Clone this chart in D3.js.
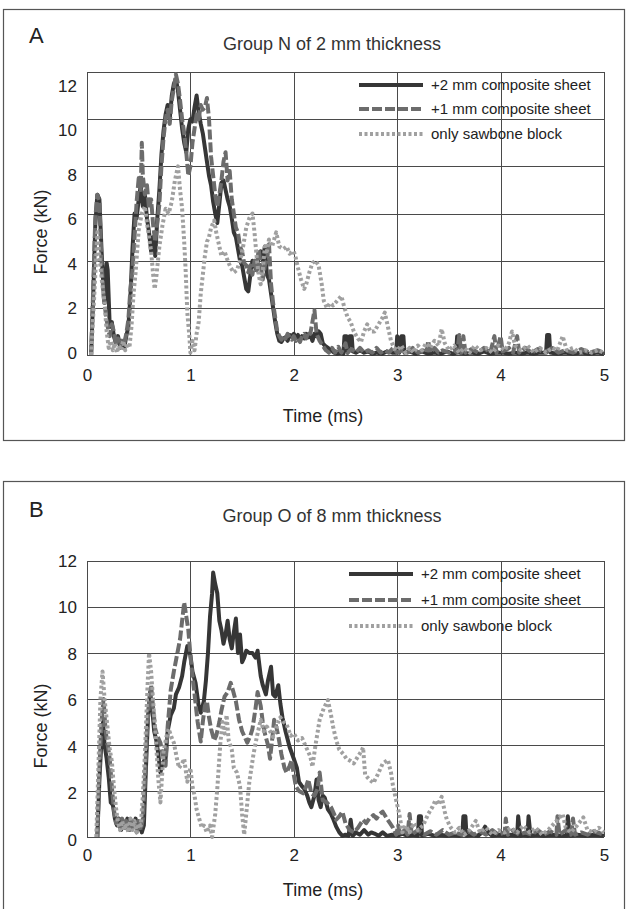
<!DOCTYPE html>
<html>
<head>
<meta charset="utf-8">
<script src="https://cdn.jsdelivr.net/npm/d3@7"></script>
<style>
  body { margin: 0; background: #fff; }
  svg { display: block; font-family: "Liberation Sans", Arial, sans-serif; }
  .grid line { stroke: #4a4a4a; stroke-width: 1; }
  .tick text { fill: #222; }
</style>
</head>
<body>
<div id="chart"></div>
<script>
// series names (legend order)
var seriesNames = ["+2 mm composite sheet", "+1 mm composite sheet", "only sawbone block"];
var timeTicks = [0, 1, 2, 3, 4, 5];
var forceTicks = [0, 2, 4, 6, 8, 10, 12];

// Panel A : Group N of 2 mm thickness  [time (ms), force (kN)]
var nSheet2 = [[0.04,0],[0.06,2.5],[0.08,5.5],[0.10,6.8],[0.12,6.6],[0.14,4.5],[0.16,2.8],[0.17,2.2],[0.19,3.9],[0.20,3.6],[0.22,1.2],[0.24,1.4],[0.26,0.8],[0.28,0.5],[0.30,0.8],[0.32,0.4],[0.34,0.6],[0.36,0.3],[0.38,0.8],[0.40,1.2],[0.42,2.5],[0.44,4.5],[0.46,6.0],[0.48,5.8],[0.50,6.6],[0.52,7.2],[0.54,6.3],[0.56,6.8],[0.58,5.8],[0.60,5.2],[0.62,4.4],[0.64,5.0],[0.66,4.2],[0.68,5.8],[0.70,7.0],[0.72,8.5],[0.74,9.5],[0.76,10.2],[0.78,10.6],[0.80,10.0],[0.82,11.0],[0.84,11.5],[0.86,11.7],[0.88,11.2],[0.90,10.4],[0.92,9.6],[0.94,9.0],[0.96,8.6],[0.98,9.6],[1.00,10.0],[1.02,9.9],[1.04,10.5],[1.06,11.0],[1.08,10.3],[1.10,9.8],[1.12,9.4],[1.14,8.8],[1.16,8.2],[1.18,7.6],[1.20,7.2],[1.22,6.5],[1.24,6.0],[1.26,5.6],[1.28,6.4],[1.30,7.3],[1.32,7.4],[1.34,7.0],[1.36,6.6],[1.38,6.3],[1.40,5.8],[1.42,5.2],[1.44,5.0],[1.46,4.5],[1.48,4.0],[1.50,3.8],[1.52,3.3],[1.54,2.8],[1.56,2.7],[1.58,3.4],[1.60,4.0],[1.62,3.8],[1.64,3.6],[1.66,4.2],[1.68,4.4],[1.70,4.0],[1.72,4.6],[1.74,3.4],[1.76,3.2],[1.78,2.6],[1.80,2.0],[1.82,1.4],[1.84,0.9],[1.86,0.6],[1.88,0.55],[1.90,0.7],[1.92,0.75],[1.94,0.6],[1.96,0.85],[1.98,0.8],[2.00,0.9],[2.02,0.75],[2.04,0.85],[2.06,0.65],[2.08,0.8],[2.10,0.7],[2.12,0.9],[2.14,0.75],[2.16,0.85],[2.18,0.6],[2.20,0.9],[2.22,0.8],[2.24,1.0],[2.26,0.9],[2.28,0.5],[2.30,0.4],[2.33,0.3],[2.36,0.2],[2.39,0.1],[2.42,0.05],[2.45,0.1],[2.48,0.05],[2.49,0.8],[2.51,0.8],[2.52,0.1],[2.54,0.8],[2.56,0.8],[2.57,0.15],[2.60,0.1],[2.64,0.2],[2.68,0.1],[2.72,0.15],[2.76,0.05],[2.80,0.1],[2.85,0.05],[2.90,0.15],[2.95,0.1],[2.99,0.1],[3.00,0.8],[3.02,0.1],[3.04,0.8],[3.06,0.8],[3.07,0.1],[3.12,0.15],[3.18,0.05],[3.24,0.15],[3.30,0.05],[3.36,0.1],[3.42,0.05],[3.48,0.15],[3.54,0.05],[3.57,0.1],[3.58,0.8],[3.60,0.1],[3.66,0.05],[3.72,0.1],[3.78,0.05],[3.84,0.15],[3.90,0.05],[3.96,0.1],[4.02,0.1],[4.08,0.05],[4.14,0.1],[4.20,0.05],[4.26,0.1],[4.32,0.05],[4.38,0.1],[4.44,0.1],[4.45,0.85],[4.47,0.85],[4.48,0.1],[4.55,0.05],[4.62,0.1],[4.70,0.05],[4.78,0.1],[4.86,0.05],[4.94,0.1],[5.00,0.05]];
var nSheet1 = [[0.04,0],[0.06,2.8],[0.08,5.8],[0.10,6.8],[0.12,6.5],[0.14,4.0],[0.16,2.5],[0.18,1.8],[0.20,1.2],[0.22,0.8],[0.24,1.3],[0.26,1.0],[0.28,0.4],[0.30,0.7],[0.32,0.3],[0.34,0.6],[0.36,0.5],[0.38,0.9],[0.40,1.5],[0.42,2.8],[0.44,3.6],[0.46,5.0],[0.48,6.5],[0.50,7.5],[0.52,7.0],[0.53,9.0],[0.54,7.6],[0.56,6.8],[0.58,7.2],[0.60,6.2],[0.62,6.6],[0.64,5.5],[0.66,4.8],[0.68,5.6],[0.70,6.4],[0.72,8.0],[0.74,9.2],[0.76,10.0],[0.78,10.4],[0.80,9.8],[0.82,10.8],[0.84,11.3],[0.86,11.9],[0.88,11.5],[0.90,10.8],[0.92,10.0],[0.94,9.4],[0.96,8.6],[0.98,7.6],[1.00,8.0],[1.02,9.0],[1.04,9.6],[1.06,10.2],[1.08,10.0],[1.10,10.6],[1.12,10.4],[1.14,10.5],[1.16,10.9],[1.18,10.0],[1.20,8.4],[1.22,7.6],[1.24,6.8],[1.26,6.3],[1.28,6.8],[1.30,7.4],[1.32,8.2],[1.34,8.6],[1.36,7.4],[1.38,7.8],[1.40,6.6],[1.42,6.0],[1.44,5.4],[1.46,5.2],[1.48,4.6],[1.50,4.4],[1.52,3.9],[1.54,3.8],[1.56,3.5],[1.58,3.8],[1.60,3.4],[1.62,4.0],[1.64,3.6],[1.66,4.5],[1.68,3.8],[1.70,3.2],[1.72,3.8],[1.74,4.0],[1.76,4.7],[1.78,3.0],[1.80,2.2],[1.82,1.6],[1.84,1.0],[1.86,0.8],[1.88,0.65],[1.90,0.8],[1.92,0.7],[1.94,0.9],[1.96,0.75],[1.98,0.65],[2.00,0.8],[2.02,0.6],[2.04,0.7],[2.06,0.55],[2.08,0.8],[2.10,0.9],[2.12,0.7],[2.14,1.0],[2.16,0.9],[2.18,1.4],[2.20,1.9],[2.22,0.9],[2.25,0.6],[2.28,0.4],[2.31,0.2],[2.34,0.1],[2.37,0.3],[2.40,0.1],[2.43,0.35],[2.46,0.1],[2.50,0.5],[2.52,0.1],[2.56,0.25],[2.60,0.1],[2.64,0.3],[2.68,0.1],[2.72,0.2],[2.76,0.1],[2.80,0.3],[2.84,0.1],[2.88,0.2],[2.92,0.1],[2.96,0.3],[3.00,0.1],[3.05,0.2],[3.10,0.1],[3.15,0.3],[3.20,0.1],[3.25,0.2],[3.28,0.1],[3.30,0.6],[3.32,0.1],[3.36,0.3],[3.40,0.1],[3.44,0.2],[3.50,0.1],[3.55,0.2],[3.58,0.1],[3.60,0.85],[3.62,0.1],[3.64,0.8],[3.66,0.1],[3.72,0.25],[3.78,0.1],[3.84,0.3],[3.90,0.1],[3.94,0.8],[3.96,0.1],[4.00,0.8],[4.02,0.15],[4.08,0.3],[4.12,0.1],[4.16,0.8],[4.18,0.1],[4.24,0.3],[4.30,0.1],[4.36,0.25],[4.42,0.1],[4.50,0.3],[4.56,0.1],[4.62,0.2],[4.70,0.1],[4.78,0.25],[4.86,0.1],[4.94,0.2],[5.00,0.1]];
var nBlock = [[0.04,0],[0.07,2.5],[0.10,5.2],[0.12,4.2],[0.145,3.1],[0.17,2.2],[0.19,1.0],[0.21,0.3],[0.23,0.6],[0.25,0.2],[0.27,0.5],[0.29,0.1],[0.31,0.4],[0.33,0.2],[0.35,0.6],[0.37,0.2],[0.39,0.5],[0.41,0.3],[0.43,1.2],[0.45,2.6],[0.47,3.5],[0.50,5.3],[0.53,6.0],[0.56,6.3],[0.58,5.6],[0.60,5.0],[0.62,4.4],[0.64,3.4],[0.655,2.8],[0.67,3.3],[0.70,4.6],[0.73,5.5],[0.76,6.2],[0.79,6.0],[0.82,6.5],[0.85,7.4],[0.88,8.0],[0.90,7.0],[0.92,6.2],[0.94,4.8],[0.955,3.5],[0.97,1.8],[0.99,0.8],[1.00,0.1],[1.02,0.6],[1.04,0.2],[1.06,0.9],[1.08,1.4],[1.10,2.6],[1.12,3.4],[1.14,4.2],[1.16,4.8],[1.18,5.0],[1.20,5.4],[1.23,5.7],[1.25,5.2],[1.28,4.6],[1.30,4.2],[1.33,4.4],[1.36,4.0],[1.39,3.7],[1.42,3.5],[1.45,3.6],[1.48,4.0],[1.51,4.6],[1.54,5.4],[1.57,5.8],[1.60,6.0],[1.62,5.2],[1.64,4.2],[1.66,3.4],[1.68,3.0],[1.70,3.6],[1.72,4.6],[1.74,4.4],[1.76,4.9],[1.79,4.6],[1.83,5.2],[1.86,4.6],[1.90,4.5],[1.93,4.6],[1.96,4.3],[2.00,4.4],[2.02,4.1],[2.04,3.7],[2.07,3.2],[2.10,2.8],[2.12,3.0],[2.15,3.5],[2.18,3.9],[2.21,4.0],[2.24,3.8],[2.27,3.0],[2.29,2.3],[2.32,2.0],[2.35,2.2],[2.38,2.1],[2.42,2.3],[2.46,2.5],[2.49,2.0],[2.52,1.6],[2.55,1.4],[2.58,1.0],[2.62,0.7],[2.65,0.55],[2.68,1.0],[2.71,1.3],[2.74,1.0],[2.78,1.0],[2.82,1.3],[2.86,1.6],[2.88,1.8],[2.91,1.2],[2.94,0.6],[2.97,0.3],[3.00,0.2],[3.04,0.4],[3.08,0.1],[3.12,0.3],[3.16,0.1],[3.20,0.4],[3.24,0.2],[3.28,0.5],[3.32,0.3],[3.36,0.6],[3.40,0.4],[3.43,1.1],[3.46,0.5],[3.50,0.2],[3.55,0.4],[3.60,0.1],[3.65,0.3],[3.70,0.1],[3.75,0.4],[3.80,0.2],[3.86,0.3],[3.92,0.1],[3.98,0.4],[4.04,0.2],[4.08,0.5],[4.11,1.0],[4.14,0.4],[4.20,0.2],[4.26,0.4],[4.32,0.1],[4.38,0.3],[4.44,0.1],[4.50,0.3],[4.55,0.2],[4.60,0.8],[4.64,0.2],[4.70,0.3],[4.76,0.1],[4.82,0.2],[4.88,0.1],[4.94,0.2],[5.00,0.1]];

// Panel B : Group O of 8 mm thickness
var oSheet2 = [[0.10,0],[0.12,2.5],[0.14,4.2],[0.155,5.0],[0.17,4.0],[0.19,3.4],[0.21,2.6],[0.23,1.5],[0.25,1.4],[0.27,0.8],[0.29,0.5],[0.31,0.8],[0.33,0.3],[0.35,0.7],[0.37,0.4],[0.39,0.8],[0.41,0.3],[0.43,0.7],[0.45,0.5],[0.47,0.8],[0.49,0.3],[0.51,0.6],[0.53,0.2],[0.55,0.5],[0.57,3.0],[0.59,5.2],[0.61,6.3],[0.63,5.6],[0.65,4.6],[0.67,4.2],[0.69,3.6],[0.71,2.8],[0.73,3.2],[0.76,3.4],[0.78,4.6],[0.81,5.3],[0.84,5.6],[0.86,6.2],[0.89,6.5],[0.92,7.0],[0.94,7.6],[0.97,8.3],[1.00,7.9],[1.02,7.2],[1.05,6.7],[1.08,5.7],[1.10,5.4],[1.13,5.9],[1.15,6.8],[1.17,8.0],[1.19,9.6],[1.21,10.6],[1.22,11.5],[1.24,11.0],[1.26,10.6],[1.28,9.4],[1.30,9.0],[1.32,8.4],[1.34,8.8],[1.36,9.4],[1.38,8.6],[1.40,8.2],[1.42,8.9],[1.44,9.5],[1.46,8.0],[1.48,8.8],[1.50,7.6],[1.52,7.8],[1.54,8.1],[1.57,8.0],[1.60,8.0],[1.63,7.8],[1.65,8.1],[1.68,7.0],[1.70,6.6],[1.73,6.2],[1.75,6.8],[1.78,7.4],[1.80,6.2],[1.82,6.1],[1.85,6.6],[1.87,5.8],[1.89,5.2],[1.92,4.6],[1.96,3.9],[2.00,3.4],[2.03,3.0],[2.05,2.4],[2.08,2.2],[2.10,2.1],[2.13,1.8],[2.15,1.5],[2.17,1.3],[2.20,1.8],[2.22,2.5],[2.24,1.6],[2.26,1.3],[2.28,1.8],[2.30,1.7],[2.33,1.2],[2.36,1.0],[2.38,0.8],[2.41,0.45],[2.44,0.2],[2.47,0.05],[2.50,0.1],[2.53,0.05],[2.55,0.75],[2.57,0.05],[2.60,0.2],[2.64,0.1],[2.68,0.3],[2.72,0.1],[2.75,0.2],[2.78,0.15],[2.82,0.05],[2.86,0.2],[2.90,0.05],[2.95,0.1],[3.00,0.05],[3.05,0.15],[3.10,0.05],[3.15,0.1],[3.20,0.05],[3.21,0.9],[3.23,0.9],[3.24,0.05],[3.30,0.15],[3.36,0.05],[3.42,0.1],[3.48,0.05],[3.54,0.1],[3.60,0.05],[3.63,0.1],[3.64,0.9],[3.66,0.9],[3.67,0.05],[3.72,0.1],[3.78,0.05],[3.82,0.2],[3.85,0.45],[3.88,0.2],[3.92,0.05],[3.98,0.1],[4.04,0.05],[4.10,0.1],[4.16,0.05],[4.17,0.9],[4.19,0.05],[4.22,0.1],[4.26,0.05],[4.27,0.9],[4.29,0.05],[4.35,0.1],[4.42,0.05],[4.50,0.1],[4.58,0.05],[4.64,0.05],[4.65,0.9],[4.67,0.05],[4.74,0.1],[4.82,0.05],[4.90,0.1],[5.00,0.05]];
var oSheet1 = [[0.10,0],[0.12,3.0],[0.14,5.0],[0.16,6.0],[0.18,4.6],[0.20,4.0],[0.22,3.4],[0.24,2.2],[0.26,1.2],[0.28,0.6],[0.30,0.8],[0.32,0.4],[0.34,0.8],[0.36,0.3],[0.38,0.7],[0.40,0.4],[0.42,0.8],[0.44,0.3],[0.46,0.6],[0.48,0.2],[0.50,0.7],[0.52,0.3],[0.54,0.8],[0.56,2.5],[0.58,4.6],[0.60,5.8],[0.62,6.6],[0.64,5.6],[0.66,4.7],[0.68,4.4],[0.71,4.1],[0.73,3.6],[0.76,3.1],[0.78,4.8],[0.81,6.4],[0.84,7.2],[0.87,7.9],[0.90,8.6],[0.92,9.4],[0.94,10.2],[0.96,9.6],[0.98,9.0],[1.00,7.9],[1.02,7.0],[1.04,6.2],[1.07,5.0],[1.10,4.15],[1.12,5.0],[1.14,5.7],[1.16,5.9],[1.18,5.2],[1.20,4.7],[1.23,4.2],[1.25,4.4],[1.28,5.0],[1.30,5.5],[1.33,6.1],[1.36,6.3],[1.39,6.7],[1.41,6.4],[1.44,5.9],[1.47,5.1],[1.50,4.6],[1.52,4.4],[1.55,4.1],[1.58,4.4],[1.60,4.7],[1.63,5.6],[1.65,6.3],[1.68,5.7],[1.70,5.0],[1.72,4.5],[1.75,4.0],[1.77,3.4],[1.79,4.2],[1.81,5.1],[1.83,4.8],[1.85,4.4],[1.88,3.6],[1.91,3.0],[1.93,2.8],[1.96,3.1],[1.98,3.35],[2.00,2.7],[2.02,2.2],[2.05,2.0],[2.09,1.9],[2.12,2.2],[2.14,2.5],[2.17,1.9],[2.20,1.8],[2.23,2.1],[2.25,2.8],[2.27,2.0],[2.28,1.6],[2.32,1.5],[2.36,1.3],[2.39,1.0],[2.41,0.75],[2.44,0.9],[2.47,1.1],[2.50,0.6],[2.54,0.3],[2.58,0.2],[2.62,0.4],[2.67,0.75],[2.70,0.6],[2.73,0.8],[2.77,0.95],[2.80,0.8],[2.83,1.0],[2.86,1.1],[2.90,0.8],[2.93,0.6],[2.96,0.4],[2.99,0.1],[3.01,0.5],[3.03,0.1],[3.07,0.3],[3.10,0.1],[3.12,1.0],[3.14,0.1],[3.20,0.3],[3.26,0.1],[3.32,0.25],[3.38,0.1],[3.44,0.3],[3.50,0.1],[3.56,0.2],[3.62,0.1],[3.68,0.3],[3.74,0.1],[3.80,0.25],[3.86,0.1],[3.92,0.3],[3.98,0.1],[4.04,0.2],[4.05,0.8],[4.07,0.1],[4.12,0.3],[4.18,0.1],[4.24,0.2],[4.30,0.1],[4.36,0.3],[4.42,0.1],[4.48,0.25],[4.54,0.1],[4.55,0.9],[4.57,0.1],[4.63,0.3],[4.68,0.1],[4.70,0.8],[4.72,0.1],[4.78,0.2],[4.84,0.1],[4.90,0.25],[5.00,0.1]];
var oBlock = [[0.09,0],[0.11,3.0],[0.13,6.0],[0.15,7.2],[0.17,6.0],[0.20,4.7],[0.22,3.8],[0.24,3.3],[0.26,2.2],[0.28,1.3],[0.30,0.6],[0.32,0.3],[0.34,0.7],[0.36,0.3],[0.38,0.6],[0.40,0.2],[0.42,0.8],[0.44,0.3],[0.46,0.7],[0.48,0.2],[0.50,0.6],[0.52,0.5],[0.54,1.8],[0.56,3.6],[0.585,6.5],[0.60,8.0],[0.62,7.2],[0.64,5.9],[0.665,4.3],[0.69,2.5],[0.71,1.5],[0.74,3.7],[0.77,4.4],[0.79,4.7],[0.82,4.3],[0.84,4.1],[0.87,3.4],[0.89,3.0],[0.92,3.2],[0.94,3.4],[0.97,2.4],[1.00,3.0],[1.02,2.2],[1.04,1.8],[1.06,1.2],[1.085,0.8],[1.11,0.4],[1.13,0.5],[1.16,0.2],[1.19,0.5],[1.21,0.0],[1.24,1.0],[1.26,2.1],[1.29,4.1],[1.31,5.0],[1.33,4.5],[1.35,5.3],[1.37,4.2],[1.40,3.8],[1.42,3.0],[1.45,2.8],[1.48,2.2],[1.50,1.0],[1.52,0.1],[1.54,1.0],[1.57,2.4],[1.61,3.6],[1.64,4.3],[1.68,5.1],[1.71,4.6],[1.74,4.8],[1.77,4.6],[1.80,4.35],[1.84,4.9],[1.87,5.2],[1.90,5.0],[1.93,4.9],[1.97,4.4],[2.00,4.5],[2.04,4.2],[2.08,4.3],[2.12,3.9],[2.16,3.5],[2.18,3.05],[2.21,4.0],[2.25,5.1],[2.29,5.6],[2.33,5.95],[2.36,5.3],[2.38,4.8],[2.41,4.2],[2.44,3.8],[2.48,3.6],[2.51,3.4],[2.55,3.3],[2.58,3.2],[2.62,3.5],[2.65,3.7],[2.67,3.9],[2.69,2.7],[2.73,2.5],[2.77,2.35],[2.81,2.7],[2.86,3.2],[2.91,3.35],[2.94,2.8],[2.96,2.2],[2.99,1.6],[3.02,1.0],[3.05,0.2],[3.08,0.5],[3.12,0.2],[3.16,0.6],[3.20,0.3],[3.25,0.5],[3.30,1.0],[3.34,1.3],[3.37,1.6],[3.40,1.4],[3.43,1.75],[3.46,1.1],[3.48,0.75],[3.52,0.4],[3.56,0.2],[3.60,0.4],[3.65,0.1],[3.70,0.3],[3.76,0.7],[3.80,0.2],[3.86,0.4],[3.92,0.1],[3.98,0.3],[4.04,0.2],[4.10,0.4],[4.16,0.2],[4.22,0.5],[4.28,0.2],[4.34,0.4],[4.40,0.1],[4.46,0.3],[4.52,0.6],[4.56,0.8],[4.60,1.0],[4.63,0.4],[4.68,0.2],[4.74,0.5],[4.80,0.85],[4.84,0.3],[4.90,0.2],[4.95,0.4],[5.00,0.2]];

var seriesStyles = [
  {color: "#363636", dash: null},
  {color: "#6c6c6c", dash: "10,3"},
  {color: "#a0a0a0", dash: "3,2.5"}
];

var svg = d3.select("#chart").append("svg")
    .attr("width", 628)
    .attr("height", 909);

var drawPanel = function(p) {
  // outer frame
  svg.append("rect")
      .attr("x", 3.5).attr("y", p.frameTop + 0.5)
      .attr("width", 621).attr("height", p.frameHeight)
      .attr("fill", "none").attr("stroke", "#555").attr("stroke-width", 1.2);

  var x = d3.scaleLinear().domain([0, 5]).range([87, 604]);
  var y = d3.scaleLinear().domain([0, 12]).range([p.bottom, p.top]);
  // the scanned figure has its y labels slightly off the grid
  var yLabel = d3.scaleLinear().domain([0, 12]).range([p.labelBottom, p.labelTop]);

  svg.append("text")
      .attr("x", 29).attr("y", p.letterY)
      .style("font-size", "22px").attr("fill", "#222")
      .text(p.letter);

  svg.append("text")
      .attr("x", 332).attr("y", p.titleY)
      .attr("text-anchor", "middle")
      .style("font-size", "18px").attr("fill", "#333")
      .text(p.title);

  // grid
  var grid = svg.append("g").attr("class", "grid");
  grid.selectAll(".h").data(forceTicks)
    .enter().append("line")
      .attr("x1", x(0)).attr("x2", x(5))
      .attr("y1", function(d) { return Math.round(y(d)) + 0.5; })
      .attr("y2", function(d) { return Math.round(y(d)) + 0.5; });
  grid.selectAll(".v").data(timeTicks)
    .enter().append("line")
      .attr("y1", y(0)).attr("y2", y(12))
      .attr("x1", function(d) { return Math.round(x(d)) + 0.5; })
      .attr("x2", function(d) { return Math.round(x(d)) + 0.5; });

  var xAxis = d3.axisBottom(x).tickValues(timeTicks).tickSize(0).tickPadding(p.xPad).tickFormat(d3.format("d"));
  var yAxis = d3.axisLeft(yLabel).tickValues(forceTicks).tickSize(0).tickPadding(10).tickFormat(d3.format("d"));

  svg.append("g")
      .attr("transform", "translate(0," + y(0) + ")")
      .call(xAxis)
      .call(function(g) { g.select(".domain").remove(); })
      .selectAll("text").style("font-size", "17px").style("font-family", "Liberation Sans, Arial, sans-serif");

  svg.append("g")
      .attr("transform", "translate(87,0)")
      .call(yAxis)
      .call(function(g) { g.select(".domain").remove(); })
      .selectAll("text").style("font-size", "17px").style("font-family", "Liberation Sans, Arial, sans-serif");

  svg.append("text")
      .attr("x", 323).attr("y", p.xTitleY)
      .attr("text-anchor", "middle")
      .style("font-size", "18px").attr("fill", "#222")
      .text("Time (ms)");

  svg.append("text")
      .attr("transform", "translate(47," + p.yTitleY + ") rotate(-90)")
      .attr("text-anchor", "middle")
      .style("font-size", "18px").attr("fill", "#222")
      .text("Force (kN)");

  var line = d3.line()
      .x(function(d) { return x(d[0]); })
      .y(function(d) { return y(d[1]); });

  p.series.forEach(function(s, i) {
    svg.append("path")
        .datum(s)
        .attr("d", line)
        .attr("fill", "none")
        .attr("stroke", seriesStyles[i].color)
        .attr("stroke-width", 4)
        .attr("stroke-linejoin", "round")
        .attr("stroke-dasharray", seriesStyles[i].dash);
  });

  // legend
  var legend = svg.append("g");
  seriesNames.forEach(function(name, i) {
    var ly = p.legendY[i];
    legend.append("line")
        .attr("x1", p.legendX).attr("x2", p.legendX + 64)
        .attr("y1", ly).attr("y2", ly)
        .attr("stroke", seriesStyles[i].color)
        .attr("stroke-width", 4)
        .attr("stroke-dasharray", seriesStyles[i].dash);
    legend.append("text")
        .attr("x", p.legendX + 72).attr("y", ly + 5)
        .style("font-size", "15px").attr("fill", "#222")
        .text(name);
  });
};

drawPanel({
  letter: "A", title: "Group N of 2 mm thickness",
  frameTop: 9, frameHeight: 431,
  top: 72, bottom: 355, labelTop: 86, labelBottom: 353,
  letterY: 43, titleY: 50, xPad: 14, xTitleY: 422, yTitleY: 232,
  legendX: 359, legendY: [85, 109, 134],
  series: [nSheet2, nSheet1, nBlock]
});

drawPanel({
  letter: "B", title: "Group O of 8 mm thickness",
  frameTop: 481, frameHeight: 440,
  top: 561, bottom: 837, labelTop: 561, labelBottom: 840,
  letterY: 517, titleY: 522, xPad: 12, xTitleY: 896, yTitleY: 726,
  legendX: 349, legendY: [574, 600, 626],
  series: [oSheet2, oSheet1, oBlock]
});
</script>
</body>
</html>
